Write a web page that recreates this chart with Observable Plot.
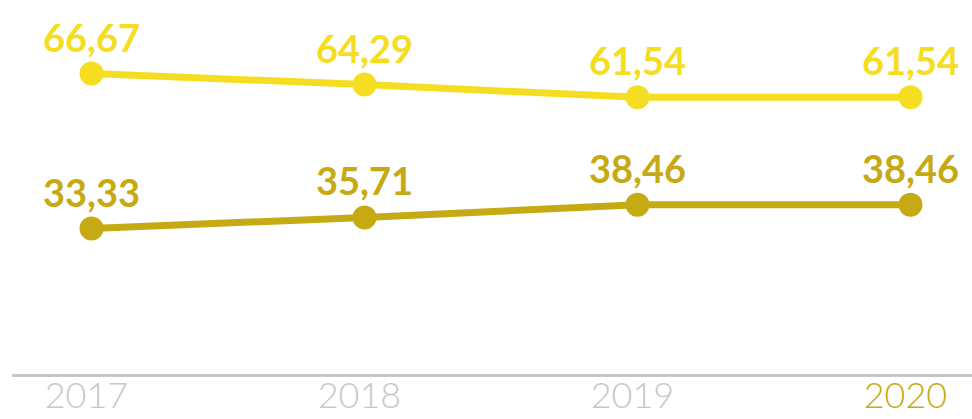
<!DOCTYPE html>
<html>
<head>
<meta charset="utf-8">
<script src="https://cdn.jsdelivr.net/npm/d3@7"></script>
<script src="https://cdn.jsdelivr.net/npm/@observablehq/plot@0.6"></script>
<style>
  html, body { margin: 0; padding: 0; background: #fff; }
  svg { overflow: visible; }
</style>
</head>
<body>
<div id="chart"></div>
<script>
const years = ["2017", "2018", "2019", "2020"];
const seriesA = [66.67, 64.29, 61.54, 61.54];
const seriesB = [33.33, 35.71, 38.46, 38.46];
const colorA = "#F5DD22";
const colorB = "#C5AA14";

const rows = [
  ...years.map((yr, i) => ({year: yr, value: seriesA[i], s: "A"})),
  ...years.map((yr, i) => ({year: yr, value: seriesB[i], s: "B"}))
];
const fmt = v => v.toFixed(2).replace(".", ",");
const col = d => d.s === "A" ? colorA : colorB;
const font = "Lato, 'Open Sans', sans-serif";

const chart = Plot.plot({
  width: 972,
  height: 419,
  marginLeft: 13,
  marginRight: 0,
  marginTop: 0,
  marginBottom: 44,
  x: {type: "point", domain: years, range: [90, 911], padding: 0, axis: null},
  y: {domain: [0, d3.max(seriesA)], range: [383, 73], axis: null},
  marks: [
    Plot.frame({anchor: "bottom", stroke: "#c8c8c8", strokeWidth: 3, strokeOpacity: 1}),
    Plot.line(rows.filter(d => d.s === "A"), {x: "year", y: "value", stroke: colorA, strokeWidth: 7}),
    Plot.line(rows.filter(d => d.s === "B"), {x: "year", y: "value", stroke: colorB, strokeWidth: 7}),
    Plot.dot(rows, {x: "year", y: "value", r: 12, fill: col, stroke: null}),
    Plot.text(rows, {
      x: "year", y: "value", text: d => fmt(d.value), fill: col,
      lineAnchor: "bottom", dy: -22, fontSize: 38, fontWeight: 700, fontFamily: font
    }),
    Plot.text(years, {
      x: d => d, frameAnchor: "bottom", lineAnchor: "middle", dy: 21, dx: -5,
      text: d => d, fill: d => d === "2020" ? colorB : "#c8c8c8",
      fontSize: 36, fontWeight: 300, fontFamily: font, letterSpacing: -2
    })
  ]
});
document.getElementById("chart").appendChild(chart);
</script>
</body>
</html>
